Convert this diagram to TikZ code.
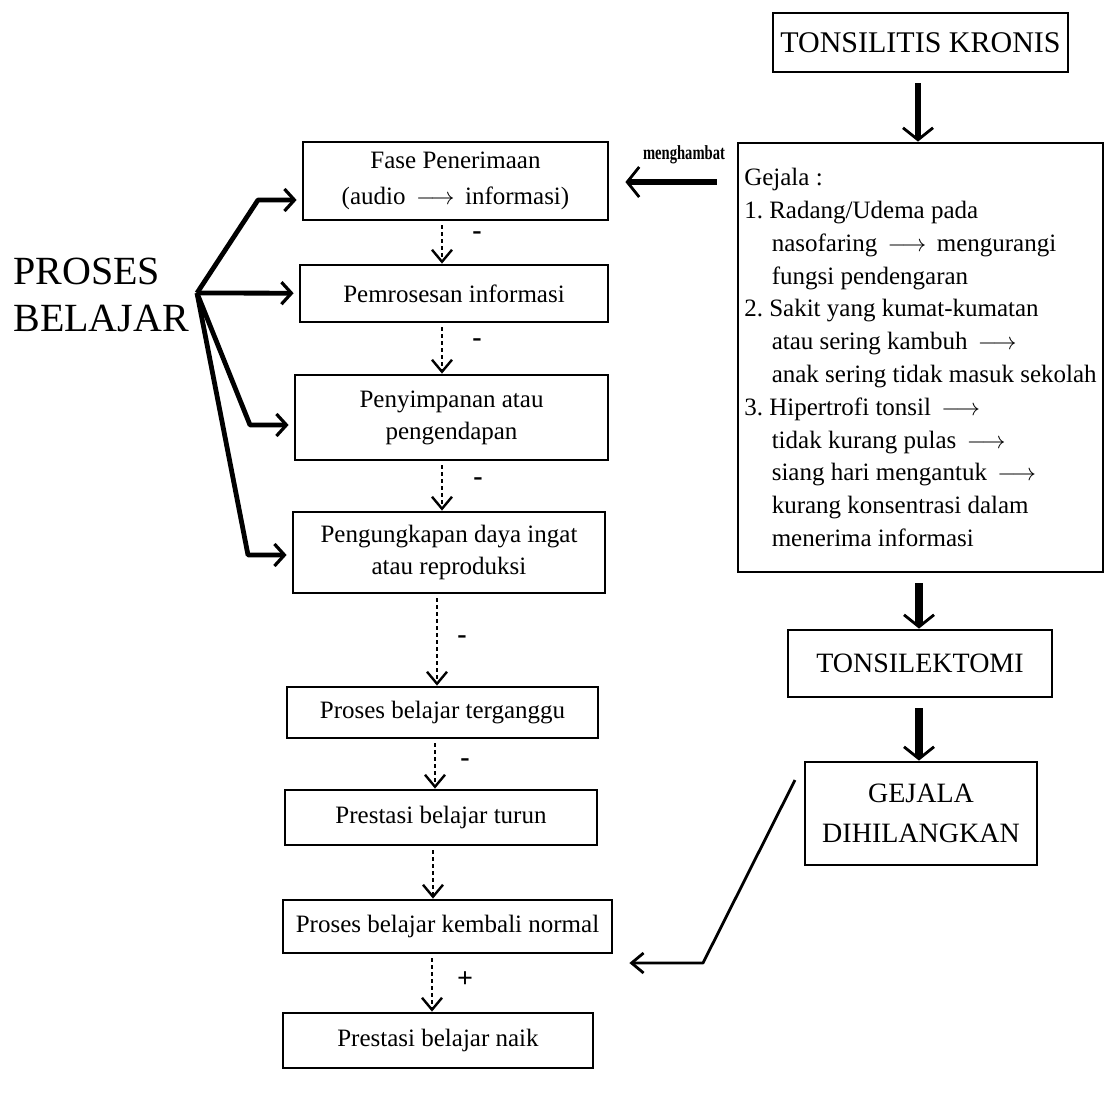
\documentclass[tikz,border=0pt]{standalone}
\usepackage{fontspec}
\setmainfont{Liberation Serif}
\usetikzlibrary{arrows.meta,positioning,calc}

\newcommand{\panah}{\,$\longrightarrow$\,}

\begin{document}
\begin{tikzpicture}[
  x=0.5pt, y=-0.5pt,
  box/.style={draw, line width=1.4pt, align=center, inner sep=1pt,
              font=\fontsize{12.5}{16}\selectfont},
  bigbox/.style={box, font=\fontsize{14}{20}\selectfont},
  tick/.style={font=\bfseries\fontsize{14}{14}\selectfont, inner sep=0pt},
  dotarr/.style={line width=1pt, dash pattern=on 2pt off 1.5pt, shorten <=2pt,
                 -{Straight Barb[length=6pt,width=10pt,line width=1.2pt]}},
  leftarr/.style={line width=2.4pt, shorten >=2.5pt, line join=round,
                  -{Straight Barb[length=5pt,width=11pt,line width=1.6pt]}},
  thickarr/.style={line width=4pt, shorten <=5pt,
                   -{Straight Barb[length=6pt,width=15pt,line width=1.4pt]}},
  thinarr/.style={line width=1.4pt, line join=round, shorten >=8pt,
                  -{Straight Barb[length=6pt,width=10pt,line width=1.4pt]}}
]
\useasboundingbox (0,0) rectangle (1105,1110);

% ── Proses belajar ────────────────────────────────────────────
\node[font=\fontsize{20}{23.5}\selectfont, align=left, inner sep=0pt,
      anchor=north west] (proses) at (13,258) {PROSES\\BELAJAR};
\coordinate (root) at (197,293);

\node[box, minimum width=152.5pt, minimum height=39pt,
      font=\fontsize{12.5}{18}\selectfont] (fase) at (455.5,181)
      {Fase Penerimaan\\(audio \panah{} informasi)};
\node[box, minimum width=154pt, minimum height=28.5pt] (pem) at (454,293.5)
      {Pemrosesan informasi};
\node[box, minimum width=156.5pt, minimum height=42.5pt] (peny) at (451.5,417.5)
      {Penyimpanan atau\\pengendapan};
\node[box, minimum width=156pt, minimum height=40.5pt] (peng) at (449,552.5)
      {Pengungkapan daya ingat\\atau reproduksi};
\node[box, minimum width=155.5pt, minimum height=25.5pt] (ganggu) at (442.5,712.5)
      {Proses belajar terganggu};
\node[box, minimum width=156pt, minimum height=27.5pt] (turun) at (441,817.5)
      {Prestasi belajar turun};
\node[box, minimum width=164.5pt, minimum height=26.5pt] (normal) at (447.5,926.5)
      {Proses belajar kembali normal};
\node[box, minimum width=155pt, minimum height=27.5pt] (naik) at (438,1040.5)
      {Prestasi belajar naik};

% ── Tonsilitis ────────────────────────────────────────────────
\node[bigbox, minimum width=147.5pt, minimum height=29.5pt,
      font=\fontsize{15}{18}\selectfont] (kronis) at (920.5,42.5) {TONSILITIS KRONIS};
\node[box, minimum width=182.5pt, minimum height=214.5pt, align=left,
      font=\fontsize{12.5}{16.4}\selectfont] (gejala) at (920.5,357.5)
      {Gejala :\\
       1.~Radang/Udema pada\\
       \hspace*{1.1em}nasofaring \panah{} mengurangi\\
       \hspace*{1.1em}fungsi pendengaran\\
       2.~Sakit yang kumat-kumatan\\
       \hspace*{1.1em}atau sering kambuh \panah\\
       \hspace*{1.1em}anak sering tidak masuk sekolah\\
       3.~Hipertrofi tonsil \panah\\
       \hspace*{1.1em}tidak kurang pulas \panah\\
       \hspace*{1.1em}siang hari mengantuk \panah\\
       \hspace*{1.1em}kurang konsentrasi dalam\\
       \hspace*{1.1em}menerima informasi};
\node[bigbox, minimum width=132pt, minimum height=33.5pt] (ektomi) at (920,663.5)
      {TONSILEKTOMI};
\node[bigbox, minimum width=116pt, minimum height=51.5pt] (hilang) at (921,813.5)
      {GEJALA\\DIHILANGKAN};

% ── Arrows ────────────────────────────────────────────────────
\draw[leftarr] (root) -- (258,200) -- (fase.west |- 0,200);
\draw[leftarr] (root) -- (pem);
\draw[leftarr] (root) -- (250,425) -- (peny.west |- 0,425);
\draw[leftarr] (root) -- (248,555) -- (peng.west |- 0,555);

\draw[dotarr] (fase.south -| 442,0) -- (pem.north -| 442,0);
\draw[dotarr] (pem.south -| 442,0) -- (peny.north -| 442,0);
\draw[dotarr] (peny.south -| 442,0) -- (peng.north -| 442,0);
\draw[dotarr] (peng.south -| 437,0) -- (ganggu.north -| 437,0);
\draw[dotarr] (ganggu.south -| 435,0) -- (turun.north -| 435,0);
\draw[dotarr] (turun.south -| 433,0) -- (normal.north -| 433,0);
\draw[dotarr] (normal.south -| 432,0) -- (naik.north -| 432,0);

\node[tick] (t1) at (477,236) {-};
\node[tick] (t2) at (477,343) {-};
\node[tick] (t3) at (478,482) {-};
\node[tick] (t4) at (462,640) {-};
\node[tick] (t5) at (465,763) {-};
\node[tick] (t6) at (465,980) {+};

\draw[thickarr, line width=3pt] (kronis.south -| 918,0) -- (gejala.north -| 918,0);
\draw[thickarr] (gejala.south -| 919,0) -- (ektomi.north -| 919,0);
\draw[thickarr] (ektomi.south -| 919,0) -- (hilang.north -| 919,0);

\draw[thickarr, line width=3pt, shorten <=10pt, shorten >=8pt]
  (gejala.west |- 0,182) -- (fase.east |- 0,182);
\node[inner sep=0pt, font=\bfseries\fontsize{10}{10}\selectfont] (hambat) at (684,155)
  {\scalebox{0.73}[1]{menghambat}};

\coordinate (hilangkaki) at (795,780);
\draw[thinarr] (hilangkaki) -- (703,963) -- (normal.east |- 0,963);
\end{tikzpicture}
\end{document}
